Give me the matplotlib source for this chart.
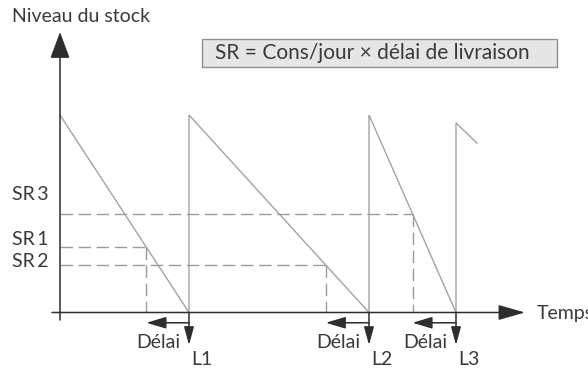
import matplotlib.pyplot as plt
from matplotlib.patches import Rectangle

plt.rcParams['font.family'] = ['Lato', 'DejaVu Sans']

# delivery times (days) and stock level just after each delivery (%)
deliveries = [12.9, 30.9, 39.6]
labels_L = ["L1", "L2", "L3"]
start_level = 100
refill_levels = [100, 100, 96]
tail_point = (41.7, 85.7)  # last visible point of the curve

# reorder points (stock levels)
sr_levels = [33, 24, 50]
sr_names = ["SR\u20091", "SR\u20092", "SR\u20093"]
sr_label_y = [36.7, 25.6, 59.5]

formula = "SR = Cons/jour \u00d7 d\u00e9lai de livraison"

axis_col = "#2e2e2e"
curve_col = "#a3a3a3"
dash_col = "#9c9c9c"
text_col = "#3a3a3a"
fs = 14

fig = plt.figure(figsize=(5.88, 3.68), dpi=100)
ax = fig.add_axes([0, 0, 1, 1])
ax.set_xlim(-6, 52.8)
ax.set_ylim(-28.1, 158.2)
ax.axis("off")

# sawtooth stock curve
xs, ys = [0], [start_level]
for t, lvl in zip(deliveries, refill_levels):
    xs += [t, t]
    ys += [0, lvl]
xs.append(tail_point[0])
ys.append(tail_point[1])
ax.plot(xs, ys, color=curve_col, lw=1.0, solid_joinstyle="miter")

# reorder thresholds: crossing point on each descending segment
order_times = []
t0 = 0
for i, (t, sr) in enumerate(zip(deliveries, sr_levels)):
    top = start_level if i == 0 else refill_levels[i - 1]
    t_cross = t - sr / top * (t - t0)
    order_times.append(t_cross)
    ax.plot([0, t_cross], [sr, sr], color=dash_col, lw=1.0, dashes=(9, 4))
    ax.plot([t_cross, t_cross], [sr, 0], color=dash_col, lw=1.0, dashes=(9, 4))
    t0 = t

for name, y in zip(sr_names, sr_label_y):
    ax.text(-4.8, y, name, ha="left", va="center", fontsize=fs, color=text_col)


def arrow(x0, y0, x1, y1, hl, hw, lw=1.1):
    ax.annotate("", xy=(x1, y1), xytext=(x0, y0),
                arrowprops=dict(arrowstyle=f"-|>,head_length={hl},head_width={hw}",
                                color=axis_col, lw=lw, mutation_scale=1,
                                shrinkA=0, shrinkB=0))


# axes with arrows
arrow(-0.8, 0, 46.5, 0, 16.5, 4.7)
arrow(0, -3.8, 0, 142, 16.5, 6.1)
ax.text(47.7, -0.7, "Temps", ha="left", va="center", fontsize=fs, color=text_col)
ax.text(-4.8, 149.6, "Niveau du stock", ha="left", va="center", fontsize=fs, color=text_col)

# lead time arrows under each delivery
for t, t_ord, lab in zip(deliveries, order_times, labels_L):
    arrow(t, -5.2, t_ord, -5.2, 12, 3.6)
    arrow(t, 0, t, -16.5, 11, 3.0)
    ax.text(t - 0.9, -15.4, "D\u00e9lai", ha="right", va="center", fontsize=fs, color=text_col)
    ax.text(t + 0.2, -24, lab, ha="left", va="center", fontsize=fs, color=text_col)

# formula box
ax.add_patch(Rectangle((14.2, 124.3), 35.5, 14.2, facecolor="#e6e6e6",
                       edgecolor="#8f8f8f", lw=1.0))
ax.text(31.2, 131.4, formula, ha="center", va="center", fontsize=15, color=text_col)

fig.savefig("out.png", dpi=100)
